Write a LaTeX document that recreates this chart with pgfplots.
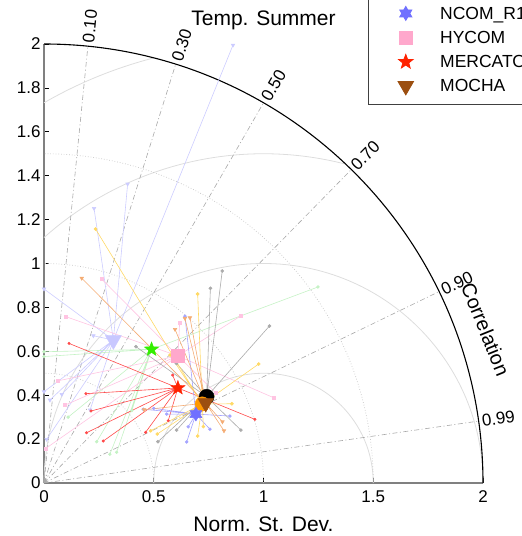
\documentclass[border=0pt]{standalone}
\usepackage{pgfplots}
\pgfplotsset{compat=1.18}
\usepackage{fontspec}
\setmainfont{Liberation Sans}

\definecolor{lavS}{HTML}{CCCCFF}
\definecolor{lavM}{HTML}{C8C8FF}
\definecolor{grnS}{HTML}{C4F2C4}
\definecolor{grnM}{HTML}{33EE00}
\definecolor{pnkS}{HTML}{FFC4E2}
\definecolor{pnkM}{HTML}{FFA8CC}
\definecolor{redS}{HTML}{FF4A4A}
\definecolor{redM}{HTML}{FF2200}
\definecolor{bluS}{HTML}{A4A4FF}
\definecolor{bluM}{HTML}{7070FF}
\definecolor{gryS}{HTML}{ABABAB}
\definecolor{yelS}{HTML}{FFD966}
\definecolor{orgM}{HTML}{FF9900}
\definecolor{tanS}{HTML}{F4AC74}
\definecolor{brnM}{HTML}{9C4F10}
\definecolor{gridsol}{HTML}{DDDDDD}
\definecolor{griddot}{HTML}{C4C4C4}
\definecolor{griddash}{HTML}{A8A8A8}

\pgfdeclareplotmark{fivestar}{%
  \pgfpathmoveto{\pgfpointpolar{90}{\pgfplotmarksize}}%
  \pgfpathlineto{\pgfpointpolar{126}{0.42\pgfplotmarksize}}%
  \pgfpathlineto{\pgfpointpolar{162}{\pgfplotmarksize}}%
  \pgfpathlineto{\pgfpointpolar{198}{0.42\pgfplotmarksize}}%
  \pgfpathlineto{\pgfpointpolar{234}{\pgfplotmarksize}}%
  \pgfpathlineto{\pgfpointpolar{270}{0.42\pgfplotmarksize}}%
  \pgfpathlineto{\pgfpointpolar{306}{\pgfplotmarksize}}%
  \pgfpathlineto{\pgfpointpolar{342}{0.42\pgfplotmarksize}}%
  \pgfpathlineto{\pgfpointpolar{18}{\pgfplotmarksize}}%
  \pgfpathlineto{\pgfpointpolar{54}{0.42\pgfplotmarksize}}%
  \pgfpathclose\pgfusepathqfillstroke}
\pgfdeclareplotmark{sixstar}{%
  \pgfpathmoveto{\pgfpointpolar{90}{\pgfplotmarksize}}%
  \pgfpathlineto{\pgfpointpolar{120}{0.577\pgfplotmarksize}}%
  \pgfpathlineto{\pgfpointpolar{150}{\pgfplotmarksize}}%
  \pgfpathlineto{\pgfpointpolar{180}{0.577\pgfplotmarksize}}%
  \pgfpathlineto{\pgfpointpolar{210}{\pgfplotmarksize}}%
  \pgfpathlineto{\pgfpointpolar{240}{0.577\pgfplotmarksize}}%
  \pgfpathlineto{\pgfpointpolar{270}{\pgfplotmarksize}}%
  \pgfpathlineto{\pgfpointpolar{300}{0.577\pgfplotmarksize}}%
  \pgfpathlineto{\pgfpointpolar{330}{\pgfplotmarksize}}%
  \pgfpathlineto{\pgfpointpolar{0}{0.577\pgfplotmarksize}}%
  \pgfpathlineto{\pgfpointpolar{30}{\pgfplotmarksize}}%
  \pgfpathlineto{\pgfpointpolar{60}{0.577\pgfplotmarksize}}%
  \pgfpathclose\pgfusepathqfillstroke}

\begin{document}
\begin{tikzpicture}
\begin{axis}[
  x=219.5pt, y=219.5pt,
  anchor=origin, at={(0pt,0pt)},
  xmin=0, xmax=2, ymin=0, ymax=2,
  axis x line=bottom, axis y line=left,
  axis line style={-, draw=black!50, line width=1.6pt},
  xtick={0,0.5,1,1.5,2},
  ytick={0,0.2,0.4,0.6,0.8,1,1.2,1.4,1.6,1.8,2},
  tick align=inside,
  major tick length=5pt,
  tick style={black, line width=0.6pt},
  /pgf/number format/assume math mode=true,
  tick label style={font=\fontsize{17}{20}\selectfont},
  xticklabel style={yshift=-4pt},
  xlabel={Norm. St. Dev.},
  xlabel style={at={(axis description cs:0.5,0)}, anchor=base, yshift=-48.7pt, font=\fontsize{21}{24}\selectfont},
  title={Temp. Summer},
  title style={at={(axis description cs:0.5,1.0275)}, anchor=base, font=\fontsize{21}{24}\selectfont},
  clip=false,
  unbounded coords=jump,
  legend cell align=left,
  legend style={at={(0.738,0.861)}, anchor=south west, draw=black!75, line width=0.8pt, fill=white,
    font=\fontsize{17.5}{20}\selectfont, inner xsep=0pt, inner ysep=8.7pt, row sep=7pt,
    nodes={text height=13pt, text depth=4pt, inner sep=0pt}},
  legend image code/.code={\draw[#1] plot coordinates {(37pt,1.5pt)}; \path (0pt,0pt) (71pt,0pt);},
]
% ---- grid ----
\draw[gridsol, line width=0.8pt] (axis cs:1.5,0) arc[start angle=0, end angle=180, radius=109.75pt];
\draw[gridsol, line width=0.8pt] (axis cs:2,0) arc[start angle=0, end angle=180, radius=219.5pt];
\draw[gridsol, line width=0.8pt] (axis cs:1.375,1.4524) arc[start angle=75.52, end angle=131.81, radius=329.25pt];
\draw[gridsol, line width=0.8pt] (axis cs:0.5,1.9365) arc[start angle=104.48, end angle=120, radius=439pt];
\draw[griddot, dotted, line width=0.7pt] (axis cs:0.5,0) arc[start angle=0, end angle=90, radius=109.75pt];
\draw[griddot, dotted, line width=0.7pt] (axis cs:1,0) arc[start angle=0, end angle=90, radius=219.5pt];
\draw[griddot, dotted, line width=0.7pt] (axis cs:1.5,0) arc[start angle=0, end angle=90, radius=329.25pt];
\addplot[forget plot, griddash, line width=0.6pt, dash pattern=on 5pt off 2.5pt on 1pt off 2.5pt] coordinates {
(0,0) (0.2,1.990) (nan,nan) (0,0) (0.6,1.908) (nan,nan) (0,0) (1.0,1.732) (nan,nan)
(0,0) (1.4,1.428) (nan,nan) (0,0) (1.8,0.872) (nan,nan) (0,0) (1.98,0.282)};
\draw[black, line width=1.1pt] (axis cs:2,0) arc[start angle=0, end angle=90, radius=439pt];
% ---- spokes ----
\addplot[forget plot, lavS, line width=0.6pt, mark=triangle*, mark size=2pt, mark options={rotate=180}] coordinates {
(0.316,0.651) (0.228,1.251) (nan,nan)
(0.316,0.651) (0.381,1.362) (nan,nan)
(0.316,0.651) (0.861,1.995) (nan,nan)
(0.316,0.651) (0.225,0.671) (nan,nan)
(0.316,0.651) (0.0,0.884) (nan,nan)
(0.316,0.651) (0.027,0.378) (nan,nan)
(0.316,0.651) (0.081,0.404) (nan,nan)
(0.316,0.651) (0.0,0.416) (nan,nan)
(0.316,0.651) (0.012,0.199) (nan,nan)
(0.316,0.651) (0.21,0.333)};
\addplot[forget plot, grnS, line width=0.6pt, mark=*, mark size=1.4pt] coordinates {
(0.49,0.609) (0.0,0.598) (nan,nan)
(0.49,0.609) (0.0,0.576) (nan,nan)
(0.49,0.609) (1.248,0.893) (nan,nan)
(0.49,0.609) (0.24,0.188) (nan,nan)
(0.49,0.609) (0.30,0.131) (nan,nan)
(0.49,0.609) (0.331,0.14) (nan,nan)
(0.49,0.609) (0.11,0.30) (nan,nan)
(0.49,0.609) (0.40,0.33)};
\addplot[forget plot, pnkS, line width=0.6pt, mark=square*, mark size=1.5pt] coordinates {
(0.61,0.579) (0.263,0.929) (nan,nan)
(0.61,0.579) (0.099,0.758) (nan,nan)
(0.61,0.579) (0.618,0.73) (nan,nan)
(0.61,0.579) (0.061,0.465) (nan,nan)
(0.61,0.579) (0.096,0.355) (nan,nan)
(0.61,0.579) (0.006,0.156) (nan,nan)
(0.61,0.579) (0.896,0.761) (nan,nan)
(0.61,0.579) (1.045,0.389) (nan,nan)
(0.61,0.579) (0.784,0.409)};
\addplot[forget plot, redS, line width=0.6pt, mark=*, mark size=1.2pt] coordinates {
(0.61,0.433) (0.114,0.636) (nan,nan)
(0.61,0.433) (0.191,0.407) (nan,nan)
(0.61,0.433) (0.214,0.328) (nan,nan)
(0.61,0.433) (0.194,0.229) (nan,nan)
(0.61,0.433) (0.27,0.191) (nan,nan)
(0.61,0.433) (0.463,0.231) (nan,nan)
(0.61,0.433) (0.961,0.29) (nan,nan)
(0.61,0.433) (0.566,0.284) (nan,nan)
(0.61,0.433) (0.586,0.492)};
\addplot[forget plot, bluS, line width=0.6pt, mark=*, mark size=1.4pt] coordinates {
(0.692,0.314) (0.65,0.187) (nan,nan)
(0.692,0.314) (0.657,0.256) (nan,nan)
(0.692,0.314) (0.756,0.245) (nan,nan)
(0.692,0.314) (0.847,0.305) (nan,nan)
(0.692,0.314) (0.452,0.336) (nan,nan)
(0.692,0.314) (0.50,0.34) (nan,nan)
(0.692,0.314) (0.559,0.314) (nan,nan)
(0.692,0.314) (0.642,0.76)};
\addplot[forget plot, gryS, line width=0.6pt, mark=*, mark size=1.5pt] coordinates {
(0.741,0.393) (0.812,0.966) (nan,nan)
(0.741,0.393) (0.758,0.887) (nan,nan)
(0.741,0.393) (1.027,0.715) (nan,nan)
(0.741,0.393) (0.519,0.188) (nan,nan)
(0.741,0.393) (0.604,0.241) (nan,nan)
(0.741,0.393) (0.897,0.241) (nan,nan)
(0.741,0.393) (0.603,0.545) (nan,nan)
(0.741,0.393) (0.419,0.621)};
\addplot[forget plot, yelS, line width=0.6pt, mark=*, mark size=1.5pt] coordinates {
(0.721,0.36) (0.235,1.157) (nan,nan)
(0.721,0.36) (0.70,0.861) (nan,nan)
(0.721,0.36) (0.978,0.542) (nan,nan)
(0.721,0.36) (0.856,0.361) (nan,nan)
(0.721,0.36) (0.574,0.583) (nan,nan)
(0.721,0.36) (0.486,0.238) (nan,nan)
(0.721,0.36) (0.516,0.223) (nan,nan)
(0.721,0.36) (0.70,0.214) (nan,nan)
(0.721,0.36) (0.726,0.257)};
\addplot[forget plot, tanS, line width=0.6pt, mark=triangle*, mark size=2pt, mark options={rotate=180}] coordinates {
(0.737,0.364) (0.172,0.933) (nan,nan)
(0.737,0.364) (0.597,0.70) (nan,nan)
(0.737,0.364) (0.642,0.75) (nan,nan)
(0.737,0.364) (0.665,0.753) (nan,nan)
(0.737,0.364) (0.813,0.279) (nan,nan)
(0.737,0.364) (0.82,0.238) (nan,nan)
(0.737,0.364) (0.456,0.334)};
% ---- main markers ----
\addlegendimage{empty legend}\addlegendentry{}
\addplot[forget plot, only marks, mark=triangle*, mark size=9.3pt, mark options={rotate=180, draw=lavM, fill=lavM}] coordinates {(0.316,0.651)};
\addplot[forget plot, only marks, mark=fivestar, mark size=7.5pt, mark options={draw=grnM, fill=grnM}] coordinates {(0.49,0.609)};
\addplot[forget plot, only marks, mark=*, mark size=7.5pt, mark options={draw=black, fill=black}] coordinates {(0.741,0.393)};
\addplot[forget plot, only marks, mark=*, mark size=7.2pt, mark options={draw=orgM, fill=orgM}] coordinates {(0.721,0.36)};
\addplot[only marks, mark=sixstar, mark size=7pt, mark options={draw=bluM, fill=bluM}] coordinates {(0.692,0.314)};
\addlegendentry{NCOM\_R1}
\addplot[only marks, mark=square*, mark size=6.5pt, mark options={draw=pnkM, fill=pnkM}] coordinates {(0.61,0.579)};
\addlegendentry{HYCOM}
\addplot[only marks, mark=fivestar, mark size=7.5pt, mark options={draw=redM, fill=redM}] coordinates {(0.61,0.433)};
\addlegendentry{MERCATOR}
\addplot[only marks, mark=triangle*, mark size=9pt, mark options={rotate=180, draw=brnM, fill=brnM}] coordinates {(0.737,0.364)};
\addlegendentry{MOCHA}
% ---- correlation labels ----
\node[rotate=84.26, anchor=west, inner sep=1pt, font=\fontsize{17}{20}\selectfont] at (axis cs:0.201,2.000) {0.10};
\node[rotate=72.54, anchor=west, inner sep=1pt, font=\fontsize{17}{20}\selectfont] at (axis cs:0.603,1.918) {0.30};
\node[rotate=60.00, anchor=west, inner sep=1pt, font=\fontsize{17}{20}\selectfont] at (axis cs:1.005,1.741) {0.50};
\node[rotate=45.57, anchor=west, inner sep=1pt, font=\fontsize{17}{20}\selectfont] at (axis cs:1.407,1.435) {0.70};
\node[rotate=25.84, anchor=west, inner sep=1pt, font=\fontsize{17}{20}\selectfont] at (axis cs:1.809,0.876) {0.90};
\node[rotate=8.11, anchor=west, inner sep=1pt, font=\fontsize{17}{20}\selectfont] at (axis cs:1.990,0.283) {0.99};
\node[rotate=-68, font=\fontsize{20}{24}\selectfont] at (axis cs:2.012,0.700) {Correlation};
\end{axis}
\pgfresetboundingbox
\path[use as bounding box] (-44pt,-53pt) rectangle (478pt,483pt);
\end{tikzpicture}
\end{document}
